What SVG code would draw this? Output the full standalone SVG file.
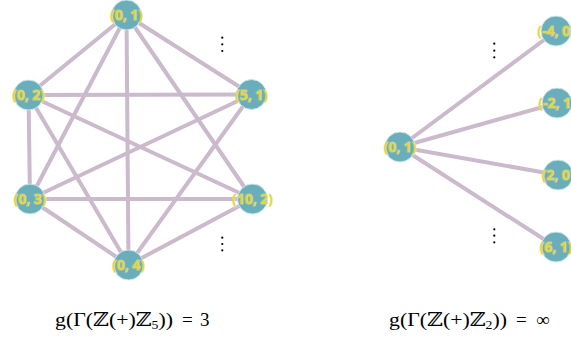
<svg xmlns="http://www.w3.org/2000/svg" width="571" height="339" viewBox="0 0 571 339">
<style>
.e{stroke:#cbb9cc;stroke-width:4;fill:none;stroke-linecap:round}
.n circle{fill:#6aaebb;stroke:#cfe6ea;stroke-width:1}
.n text{font-family:"Open Sans","DejaVu Sans",sans-serif;font-weight:700;font-size:14px;fill:#e8d53a;stroke:#eef0c0;stroke-width:1.2;stroke-opacity:0.5;paint-order:stroke;text-anchor:middle}
.d{fill:#000}
.f{font-family:"Liberation Serif","DejaVu Serif",serif;font-size:19px;fill:#000}
</style>
<rect width="571" height="339" fill="#fff"/>
<g id="edges">
<line class="e" x1="126.5" y1="15" x2="28.5" y2="95"/>
<line class="e" x1="126.5" y1="15" x2="251.5" y2="94.5"/>
<line class="e" x1="126.5" y1="15" x2="30" y2="199"/>
<line class="e" x1="126.5" y1="15" x2="252.5" y2="199"/>
<line class="e" x1="126.5" y1="15" x2="128.5" y2="265"/>
<line class="e" x1="28.5" y1="95" x2="251.5" y2="94.5"/>
<line class="e" x1="28.5" y1="95" x2="30" y2="199"/>
<line class="e" x1="28.5" y1="95" x2="252.5" y2="199"/>
<line class="e" x1="28.5" y1="95" x2="128.5" y2="265"/>
<line class="e" x1="251.5" y1="94.5" x2="30" y2="199"/>
<line class="e" x1="251.5" y1="94.5" x2="128.5" y2="265"/>
<line class="e" x1="30" y1="199" x2="252.5" y2="199"/>
<line class="e" x1="30" y1="199" x2="128.5" y2="265"/>
<line class="e" x1="252.5" y1="199" x2="128.5" y2="265"/>
<line class="e" x1="400" y1="147" x2="556" y2="31"/>
<line class="e" x1="400" y1="147" x2="557" y2="103"/>
<line class="e" x1="400" y1="147" x2="558" y2="175"/>
<line class="e" x1="400" y1="147" x2="556" y2="247"/>
</g>
<g id="n01" class="n"><circle cx="126.5" cy="15" r="15"/><text x="126.5" y="20">(0, 1)</text></g>
<g id="n02" class="n"><circle cx="28.5" cy="95" r="15"/><text x="28.5" y="100">(0, 2)</text></g>
<g id="n51" class="n"><circle cx="251.5" cy="94.5" r="15"/><text x="251.5" y="99.5">(5, 1)</text></g>
<g id="n03" class="n"><circle cx="30" cy="199" r="15"/><text x="30" y="204">(0, 3)</text></g>
<g id="n102" class="n"><circle cx="252.5" cy="199" r="15"/><text x="252.5" y="204">(10, 2)</text></g>
<g id="n04" class="n"><circle cx="128.5" cy="265" r="15"/><text x="128.5" y="270">(0, 4)</text></g>
<g id="r01" class="n"><circle cx="400" cy="147" r="15"/><text x="400" y="152">(0, 1)</text></g>
<g id="rm40" class="n"><circle cx="556" cy="31" r="15"/><text x="556" y="36">(-4, 0)</text></g>
<g id="rm21" class="n"><circle cx="557" cy="103" r="15"/><text x="557" y="108">(-2, 1)</text></g>
<g id="r20" class="n"><circle cx="558" cy="175" r="15"/><text x="558" y="180">(2, 0)</text></g>
<g id="r61" class="n"><circle cx="556" cy="247" r="15"/><text x="556" y="252">(6, 1)</text></g>
<g id="dots">
<circle class="d" cx="222.3" cy="37.7" r="1.1"/><circle class="d" cx="222.3" cy="44.3" r="1.1"/><circle class="d" cx="222.3" cy="51" r="1.1"/>
<circle class="d" cx="222.3" cy="237.7" r="1.1"/><circle class="d" cx="222.3" cy="244" r="1.1"/><circle class="d" cx="222.3" cy="250.3" r="1.1"/>
<circle class="d" cx="494.3" cy="43.7" r="1.1"/><circle class="d" cx="494.3" cy="50.7" r="1.1"/><circle class="d" cx="494.3" cy="57.3" r="1.1"/>
<circle class="d" cx="494.3" cy="229.3" r="1.1"/><circle class="d" cx="494.3" cy="235.7" r="1.1"/><circle class="d" cx="494.3" cy="242.3" r="1.1"/>
</g>
<g id="formula-left">
<text class="f" x="55" y="326" textLength="118" lengthAdjust="spacingAndGlyphs">g(Γ(ℤ(+)ℤ<tspan font-size="12" dy="3">5</tspan><tspan dy="-3">))</tspan></text>
<text class="f" x="182" y="326">=</text>
<text class="f" x="200" y="326">3</text>
</g>
<g id="formula-right">
<text class="f" x="389" y="326" textLength="118" lengthAdjust="spacingAndGlyphs">g(Γ(ℤ(+)ℤ<tspan font-size="12" dy="3">2</tspan><tspan dy="-3">))</tspan></text>
<text class="f" x="516" y="326">=</text>
<text class="f" x="536" y="326" font-size="24">∞</text>
</g>
</svg>
